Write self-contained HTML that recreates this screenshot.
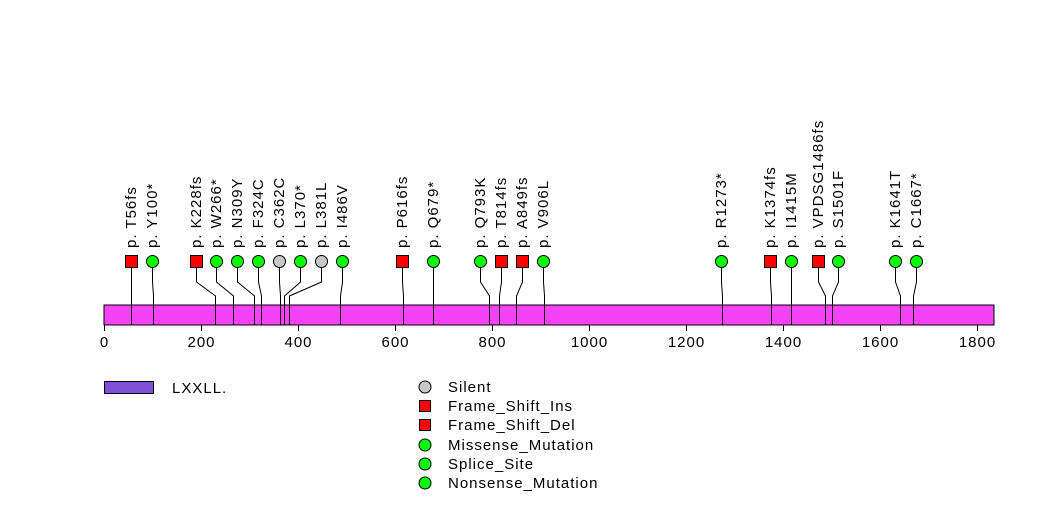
<!DOCTYPE html>
<html><head><style>body{margin:0;background:#fff}svg{display:block}text{font-family:"Liberation Sans",sans-serif;font-size:15px;letter-spacing:1px;fill:#000}</style></head>
<body>
<svg width="1047" height="524" xmlns="http://www.w3.org/2000/svg">
<rect x="104" y="305" width="890" height="20" fill="#f442f4" stroke="#000" stroke-width="1"/>
<g id="lines" stroke="#000" stroke-width="1" fill="none"></g>
<g id="ax" stroke="#000"></g>
<g id="lab"></g>
<rect x="104.5" y="381.5" width="49" height="12" fill="#8050d8" stroke="#000"/>
<text x="172" y="393">LXXLL.</text>
<circle cx="425" cy="387" r="6" fill="#c8c8c8" stroke="#000"/><text x="448" y="392">Silent</text>
<rect x="419.5" y="400.5" width="11" height="11" fill="#f00" stroke="#000"/><text x="448" y="411">Frame_Shift_Ins</text>
<rect x="419.5" y="419.5" width="11" height="11" fill="#f00" stroke="#000"/><text x="448" y="430">Frame_Shift_Del</text>
<circle cx="425" cy="445" r="6" fill="#0f0" stroke="#000"/><text x="448" y="450">Missense_Mutation</text>
<circle cx="425" cy="464" r="6" fill="#0f0" stroke="#000"/><text x="448" y="469">Splice_Site</text>
<circle cx="425" cy="483" r="6" fill="#0f0" stroke="#000"/><text x="448" y="488">Nonsense_Mutation</text>
</svg>
<script>
var d=[["p. T56fs",131,56,"s"],["p. Y100*",152,100,"g"],["p. K228fs",196,228,"s"],["p. W266*",216,266,"g"],["p. N309Y",237,309,"g"],["p. F324C",258,324,"g"],["p. C362C",279,362,"y"],["p. L370*",300,370,"g"],["p. L381L",321,381,"y"],["p. I486V",342,486,"g"],["p. P616fs",402,616,"s"],["p. Q679*",433,679,"g"],["p. Q793K",480,793,"g"],["p. T814fs",501,814,"s"],["p. A849fs",522,849,"s"],["p. V906L",543,906,"g"],["p. R1273*",721,1273,"g"],["p. K1374fs",770,1374,"s"],["p. I1415M",791,1415,"g"],["p. VPDSG1486fs",818,1486,"s"],["p. S1501F",838,1501,"g"],["p. K1641T",895,1641,"g"],["p. C1667*",916,1667,"g"]];
var ns="http://www.w3.org/2000/svg",S=document.querySelector("svg"),L=document.getElementById("lines"),T=document.getElementById("lab"),A=document.getElementById("ax");
function el(p,t,a){var e=document.createElementNS(ns,t);for(var k in a)e.setAttribute(k,a[k]);p.appendChild(e);return e;}
d.forEach(function(r){var mx=r[1]+0.5,bx=Math.round(104+r[2]*0.4852)+0.5;
el(L,"polyline",{points:mx+",267 "+mx+",282 "+bx+",296 "+bx+",325"});
var t=el(T,"text",{transform:"translate("+(r[1]+5)+",248) rotate(-90)"});t.textContent=r[0];
});
d.forEach(function(r){var mx=r[1];
if(r[3]=="s")el(S,"rect",{x:mx-5.5,y:255.5,width:12,height:12,fill:"#f00",stroke:"#000"});
else el(S,"circle",{cx:mx+0.5,cy:261.5,r:6,fill:r[3]=="g"?"#0f0":"#c8c8c8",stroke:"#000"});
});
for(var i=0;i<=9;i++){var x=Math.round(104+i*200*0.4852)+0.5;el(A,"line",{x1:x,y1:325,x2:x,y2:331});var t=el(S,"text",{x:x,y:347,"text-anchor":"middle"});t.textContent=String(i*200);}
</script>
</body></html>
